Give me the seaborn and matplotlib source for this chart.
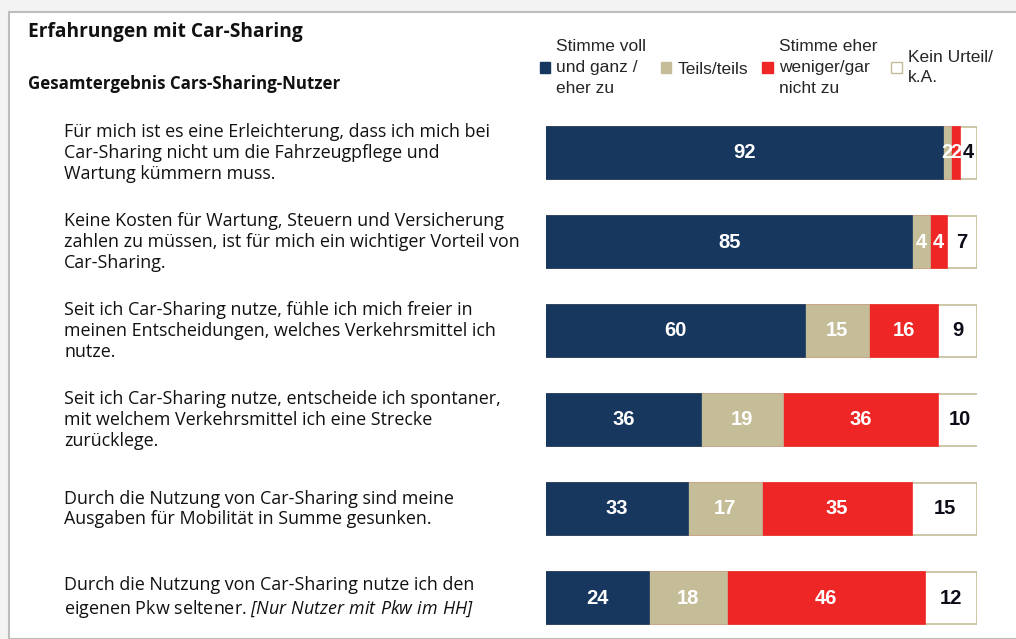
import matplotlib
matplotlib.use("Agg")
import matplotlib.pyplot as plt
import matplotlib.patches as mpatches
from matplotlib.transforms import blended_transform_factory
import numpy as np
import pandas as pd
import seaborn as sns

sns.set_style("white")
plt.rcParams["mathtext.fontset"] = "custom"
plt.rcParams["mathtext.rm"] = "Open Sans:italic"
plt.rcParams["mathtext.it"] = "Open Sans:italic"

statements = [
    "Für mich ist es eine Erleichterung, dass ich mich bei\nCar-Sharing nicht um die Fahrzeugpflege und\nWartung kümmern muss.",
    "Keine Kosten für Wartung, Steuern und Versicherung\nzahlen zu müssen, ist für mich ein wichtiger Vorteil von\nCar-Sharing.",
    "Seit ich Car-Sharing nutze, fühle ich mich freier in\nmeinen Entscheidungen, welches Verkehrsmittel ich\nnutze.",
    "Seit ich Car-Sharing nutze, entscheide ich spontaner,\nmit welchem Verkehrsmittel ich eine Strecke\nzurücklege.",
    "Durch die Nutzung von Car-Sharing sind meine\nAusgaben für Mobilität in Summe gesunken.",
    "Durch die Nutzung von Car-Sharing nutze ich den\neigenen Pkw seltener. $\\mathrm{[Nur\\ Nutzer\\ mit\\ Pkw\\ im\\ HH]}$",
]

stimme_zu = [92, 85, 60, 36, 33, 24]
teils = [2, 4, 15, 19, 17, 18]
eher_nicht = [2, 4, 16, 36, 35, 46]
kein_urteil = [4, 7, 9, 10, 15, 12]

series_names = ["Stimme voll\nund ganz /\neher zu", "Teils/teils",
                "Stimme eher\nweniger/gar\nnicht zu", "Kein Urteil/\nk.A."]
colors = ["#17375E", "#C4BD97", "#EE2726", "#FFFFFF"]
text_colors = ["white", "white", "white", "#0D0D1A"]

df = pd.DataFrame({"item": [str(i) for i in range(len(statements))],
                   "zu": stimme_zu, "teils": teils,
                   "nicht": eher_nicht, "ka": kein_urteil})
cols = ["zu", "teils", "nicht", "ka"]
cum = df[cols].cumsum(axis=1)

W, H = 1016, 639
fig = plt.figure(figsize=(W / 100, H / 100), dpi=100)
fig.patch.set_facecolor("#F3F3F3")
fig.patches.append(mpatches.Rectangle((9 / W, 0), 1, 1 - 12 / H, transform=fig.transFigure,
                                      facecolor="white", edgecolor="#BDBDBD", lw=1.5, zorder=-5))

ax = fig.add_axes([546 / W, 0, 431 / W, (H - 108.5) / H])
ax.patch.set_alpha(0)

# stacked bars: draw cumulative totals from the back
for k in range(3, -1, -1):
    edge = "#C4BD97" if k == 3 else colors[k]
    sns.barplot(x=cum[cols[k]], y=df["item"], orient="h", color=colors[k],
                width=0.575, ax=ax, saturation=1, edgecolor=edge, linewidth=1.2)

for i in range(len(df)):
    start = 0
    for k, c in enumerate(cols):
        v = df[c].iloc[i]
        ax.text(start + v / 2, i, str(v), ha="center", va="center",
                color=text_colors[k], fontsize=14.5, fontweight="bold",
                family="Liberation Sans")
        start += v

ax.set_xlim(0, 100)
ax.set_ylim(5 + (H - 598) / 89, -0.5)
ax.set_axis_off()

# statement labels
trans = blended_transform_factory(fig.transFigure, ax.transData)
for i, s in enumerate(statements):
    ax.text(64 / W, i, s, transform=trans, ha="left", va="center",
            fontsize=12.9, family="Open Sans", linespacing=1.2, color="#111111")

fig.text(28 / W, 1 - 32 / H, "Erfahrungen mit Car-Sharing", fontsize=13.8,
         fontweight="bold", family="Open Sans", va="center", color="#111111")
fig.text(28 / W, 1 - 84 / H, "Gesamtergebnis Cars-Sharing-Nutzer", fontsize=12.2,
         fontweight="bold", family="Open Sans", va="center", color="#111111")

handles = [mpatches.Patch(facecolor=c, edgecolor="#C4BD97" if c == "#FFFFFF" else c, lw=1)
           for c in colors]
leg = fig.legend(handles, series_names, loc="center left",
                 bbox_to_anchor=(540 / W, 1 - 67.5 / H), ncol=4, frameon=False,
                 handlelength=0.6, handleheight=0.6, handletextpad=0.35,
                 columnspacing=0.82, borderpad=0, borderaxespad=0,
                 prop={"family": "Liberation Sans", "size": 12.5})
for txt in leg.get_texts():
    txt.set_linespacing(1.5)

fig.savefig("out.png", dpi=100, facecolor=fig.get_facecolor())
